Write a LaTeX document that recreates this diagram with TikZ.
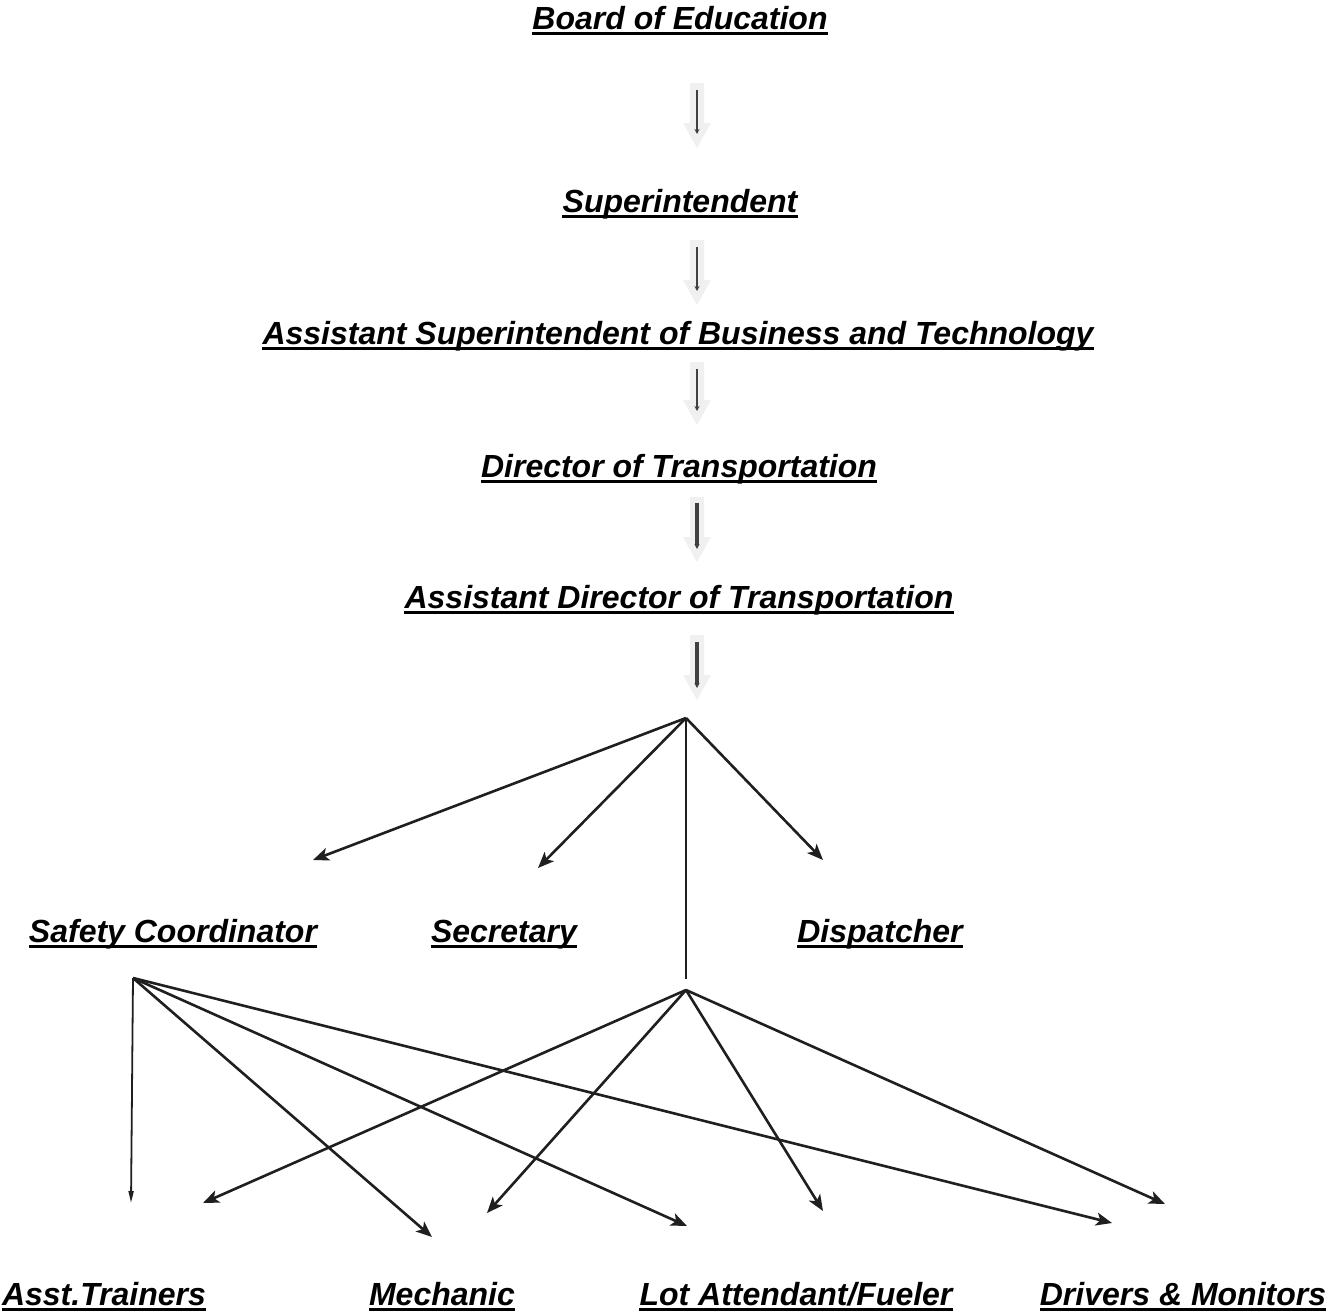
\documentclass[tikz,border=0pt]{standalone}
\usepackage{fontspec}
\setmainfont{Liberation Sans}
\usetikzlibrary{arrows.meta}
\tikzset{
  title/.style={anchor=base, inner sep=0pt, font=\fontsize{32}{38}\selectfont\bfseries\itshape},
  uline/.style={line width=2.2pt, draw=black},
  conn/.style={line width=2.6pt, draw=black!88, -{Stealth[length=16pt,width=13pt,inset=4pt]}},
  stem/.style={line width=1.8pt, draw=black!88},
  flowbg/.style={fill=black!6, draw=none},
  flowln/.style={line width=2.5pt, draw=black!75, -{Stealth[length=5pt,width=5pt]}},
}
\newcommand{\grayarrow}[3]{%
  \fill[flowbg] (#1-7,#2) -- (#1+7,#2) -- (#1+7,#3-25) -- (#1+14,#3-25) -- (#1,#3)
    -- (#1-14,#3-25) -- (#1-7,#3-25) -- cycle;}
\begin{document}
\begin{tikzpicture}[x=1pt,y=-1pt]
\useasboundingbox (0,0) rectangle (1328,1312);
\node[title] (board) at (680,29){Board of Education};
\node[title] (supt) at (680,212){Superintendent};
\node[title] (asstsupt) at (678,344){Assistant Superintendent of Business and Technology};
\node[title] (director) at (679,477){Director of Transportation};
\node[title] (asstdir) at (679,608){Assistant Director of Transportation};
\node[title] (safety) at (173,942){Safety Coordinator};
\node[title] (secretary) at (504,942){Secretary};
\node[title] (dispatcher) at (880,942){Dispatcher};
\node[title] (trainers) at (104,1305){Asst.Trainers};
\node[title] (mechanic) at (442,1305){Mechanic};
\node[title] (lot) at (796,1305){Lot Attendant/Fueler};
\node[title] (drivers) at (1183,1305){Drivers \& Monitors};
\foreach \n in {board,supt,asstsupt,director,asstdir,safety,secretary,dispatcher,trainers,mechanic,lot,drivers}
  \draw[uline]([yshift=-4.5pt]\n.base west) -- ([yshift=-4.5pt]\n.base east);

\grayarrow{697}{83}{148}
\grayarrow{697}{240}{305}
\grayarrow{697}{362}{425}
\grayarrow{697}{497}{562}
\grayarrow{697}{635}{700}
\coordinate (f1a) at (697,90);
\coordinate (f1b) at (697,134);
\coordinate (f2a) at (697,247);
\coordinate (f2b) at (697,291);
\coordinate (f3a) at (697,369);
\coordinate (f3b) at (697,411);
\coordinate (f4a) at (697,503);
\coordinate (f4b) at (697,549);
\coordinate (f5a) at (697,642);
\coordinate (f5b) at (697,688);
\draw[flowln](f1a) -- (f1b);
\draw[flowln](f2a) -- (f2b);
\draw[flowln](f3a) -- (f3b);
\draw[flowln, line width=4pt](f4a) -- (f4b);
\draw[flowln, line width=4pt](f5a) -- (f5b);

\coordinate (hub1) at (686,718);
\coordinate (hub1end) at (686,979);
\coordinate (hub2) at (686,990);
\coordinate (hub3) at (133,978);
\coordinate (toSafety) at (313,860);
\coordinate (toSecretary) at (538,868);
\coordinate (toDispatcher) at (823,860);
\draw[conn](hub1) -- (toSafety);
\draw[conn](hub1) -- (toSecretary);
\draw[conn](hub1) -- (toDispatcher);
\draw[stem](hub1) -- (hub1end);

\coordinate (hTrainers) at (203,1203);
\coordinate (hMechanic) at (487,1213);
\coordinate (hLot) at (823,1211);
\coordinate (hDrivers) at (1165,1204);
\draw[conn](hub2) -- (hTrainers);
\draw[conn](hub2) -- (hMechanic);
\draw[conn](hub2) -- (hLot);
\draw[conn](hub2) -- (hDrivers);

\coordinate (sTrainers) at (131,1203);
\coordinate (sMechanic) at (432,1237);
\coordinate (sLot) at (687,1226);
\coordinate (sDrivers) at (1112,1223);
\draw[stem, -{Triangle[length=12pt,width=5pt]}](hub3) -- (sTrainers);
\draw[conn](hub3) -- (sMechanic);
\draw[conn](hub3) -- (sLot);
\draw[conn](hub3) -- (sDrivers);

\end{tikzpicture}
\end{document}
